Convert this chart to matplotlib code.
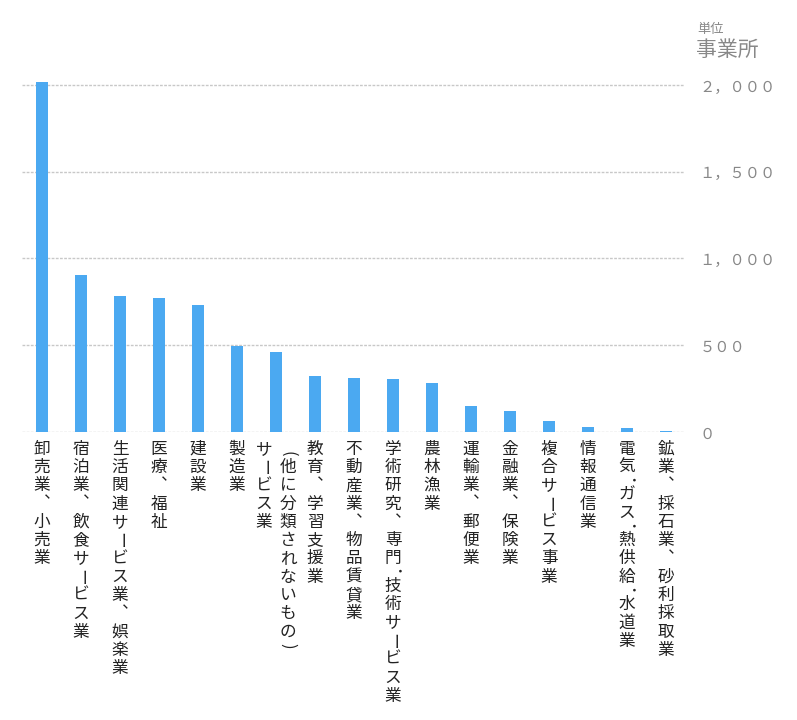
import matplotlib
matplotlib.use('Agg')
import matplotlib.pyplot as plt
from matplotlib import font_manager
from matplotlib.ft2font import FT2Font

plt.rcParams['font.family'] = ['Noto Sans CJK JP', 'DejaVu Sans']

# data
categories = ['卸売業、小売業', '宿泊業、飲食サービス業', '生活関連サービス業、娯楽業',
              '医療、福祉', '建設業', '製造業', 'サービス業(他に分類されないもの)',
              '教育、学習支援業', '不動産業、物品賃貸業', '学術研究、専門･技術サービス業',
              '農林漁業', '運輸業、郵便業', '金融業、保険業', '複合サービス事業',
              '情報通信業', '電気･ガス･熱供給･水道業', '鉱業、採石業、砂利採取業']
values = [2017, 905, 784, 772, 732, 497, 461, 323, 311, 305, 280, 150, 123, 65, 30, 25, 7]
yticks = [0, 500, 1000, 1500, 2000]
ytick_labels = ['０', '５００', '１，０００', '１，５００', '２，０００']

PX = 0.72  # points per pixel at dpi 100
ROW = 18.3  # px per character row

# vertical ideographic comma if the font has it
font_path = font_manager.findfont('Noto Sans CJK JP')
try:
    HAS_VCOMMA = FT2Font(font_path).get_char_index(0xFE11) != 0
except Exception:
    HAS_VCOMMA = False


def draw_column(ax, i, text, dx_px, start_px):
    # stack the characters top to bottom under bar i
    y = start_px
    for ch in text:
        half = ch in '･()'
        step = ROW / 2 if half else ROW
        cy = y + step / 2
        rot = 0
        ox = 0
        if ch in 'ー()･':
            rot = -90
            if ch == '･':
                ox = 2
        elif ch == '、':
            if HAS_VCOMMA:
                ch = '\ufe11'
            else:
                ox = 8
        ax.annotate(ch, xy=(i, 0), xycoords=ax.get_xaxis_transform(),
                    xytext=((dx_px + ox) * PX, -cy * PX),
                    textcoords='offset points', ha='center', va='center',
                    rotation=rot, fontsize=12, color='#222222',
                    annotation_clip=False)
        y += step


fig = plt.figure(figsize=(7.97, 7.2), dpi=100)
ax = fig.add_axes([22 / 797, 0.4, 662 / 797, 0.494])

x = list(range(len(categories)))
ax.bar(x, values, width=0.31, color='#4ba9f1', zorder=2)
ax.set_xlim(-0.513, 16.46)
ax.set_ylim(0, 2050)

for v in yticks:
    ax.axhline(v, color='#c8c8c8', lw=1, ls=(0, (2, 1)), zorder=1)

ax.yaxis.tick_right()
ax.set_yticks(yticks)
ax.set_yticklabels(ytick_labels, fontsize=11, color='#888888')
ax.tick_params(axis='y', length=0, pad=11)
ax.set_xticks([])
for s in ax.spines.values():
    s.set_visible(False)

for i, name in enumerate(categories):
    if '(' in name:
        left, right = name.split('(', 1)
        draw_column(ax, i, left, -12, 8)
        draw_column(ax, i, '(' + right, 12, 17)
    else:
        draw_column(ax, i, name, 0, 8)

fig.text(697 / 797, 1 - 29 / 720, '単位', fontsize=9.5, color='#888888', va='center')
fig.text(696 / 797, 1 - 50 / 720, '事業所', fontsize=15, color='#888888', va='center')

fig.savefig('out.png', dpi=100)
